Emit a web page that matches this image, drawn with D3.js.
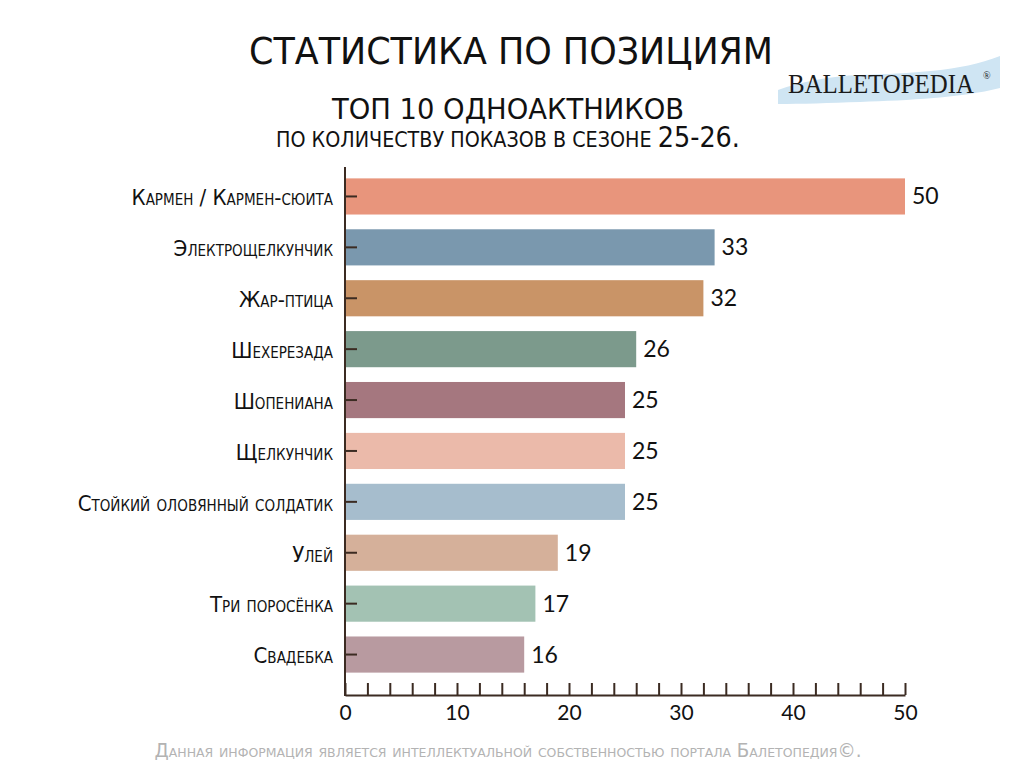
<!DOCTYPE html>
<html>
<head>
<meta charset="utf-8">
<script src="https://cdn.jsdelivr.net/npm/d3@7"></script>
<style>
  html, body { margin: 0; padding: 0; background: #fff; }
  svg { display: block; }
  .cap { font-variant: small-caps; }
</style>
</head>
<body>
<div id="chart"></div>
<script>
// Top 10 one-act ballets by number of shows, season 25-26

const titles = ["Кармен / Кармен-сюита", "Электрощелкунчик", "Жар-птица", "Шехерезада", "Шопениана",
  "Щелкунчик", "Стойкий оловянный солдатик", "Улей", "Три поросёнка", "Свадебка"];
const shows = [50, 33, 32, 26, 25, 25, 25, 19, 17, 16];
const barColors = ["#e8957c", "#7a98ae", "#c99467", "#7c9a8c", "#a5777f",
  "#ebbaaa", "#a6bdcd", "#d5b09a", "#a3c2b3", "#b89aa0"];
const xTicks = d3.range(0, 51, 2);

const width = 1024, height = 768;
const ink = "#3b2b22";
const narrow = "'Liberation Sans Narrow', 'DejaVu Sans Condensed', sans-serif";

const svg = d3.select("#chart").append("svg")
  .attr("width", width)
  .attr("height", height);

// scales
const x = d3.scaleLinear().domain([0, 50]).range([345, 905]);
const y = d3.scaleBand().domain(titles).range([171, 680])
  .paddingInner(0.29).paddingOuter(0.145);
const axisY = 695;

// headings
svg.append("text")
  .attr("x", 511).attr("y", 64)
  .attr("text-anchor", "middle")
  .attr("textLength", 524).attr("lengthAdjust", "spacingAndGlyphs")
  .style("font-family", narrow)
  .style("font-size", "38px")
  .attr("fill", "#111")
  .text("СТАТИСТИКА ПО ПОЗИЦИЯМ");

svg.append("text")
  .attr("x", 508).attr("y", 119)
  .attr("text-anchor", "middle")
  .attr("textLength", 352).attr("lengthAdjust", "spacingAndGlyphs")
  .style("font-family", narrow)
  .style("font-size", "29px")
  .attr("fill", "#111")
  .text("ТОП 10 ОДНОАКТНИКОВ");

const sub = svg.append("text")
  .attr("x", 508).attr("y", 147)
  .attr("text-anchor", "middle")
  .attr("textLength", 464).attr("lengthAdjust", "spacingAndGlyphs")
  .style("font-family", narrow)
  .attr("fill", "#111");
sub.append("tspan").style("font-size", "21px").text("ПО КОЛИЧЕСТВУ ПОКАЗОВ В СЕЗОНЕ ");
sub.append("tspan").style("font-size", "28px").text("25-26.");

// logo swoosh + name (squeezed horizontally to fit)
svg.append("path")
  .attr("d", "M778,90 C800,82 830,76 860,75 C910,73 960,72 1000,56 L1000,88 C960,98 910,100 860,102 C830,103 800,104 778,104 Z")
  .attr("fill", "#cfe5f3");
const logo = svg.append("text")
  .style("font-family", "'Liberation Serif', 'DejaVu Serif', serif")
  .style("font-size", "28px")
  .attr("fill", "#1a1a1a")
  .text("BALLETOPEDIA");
const logoW = logo.node().getComputedTextLength() || 186;
logo.attr("transform", `translate(788,93) scale(${186 / logoW},1)`);
svg.append("text")
  .attr("x", 983).attr("y", 79)
  .style("font-family", "'Liberation Serif', serif")
  .style("font-size", "10px")
  .attr("fill", "#1a1a1a")
  .text("®");

// bars
svg.append("g").selectAll("rect")
  .data(titles)
  .join("rect")
  .attr("x", x(0))
  .attr("y", d => y(d))
  .attr("width", (d, i) => x(shows[i]) - x(0))
  .attr("height", y.bandwidth())
  .attr("fill", (d, i) => barColors[i]);

// value labels
svg.append("g").selectAll("text")
  .data(titles)
  .join("text")
  .attr("x", (d, i) => x(shows[i]) + 7)
  .attr("y", d => y(d) + y.bandwidth() / 2 + 8)
  .style("font-family", "Lato, 'Noto Sans', sans-serif")
  .style("font-size", "23px")
  .attr("fill", "#111")
  .text((d, i) => shows[i]);

// y axis (category labels + short ticks over bars)
const gy = svg.append("g")
  .attr("transform", `translate(${x(0)},0)`)
  .call(d3.axisLeft(y).tickSizeInner(-12).tickSizeOuter(0).tickPadding(12));
gy.select(".domain").remove();
gy.selectAll(".tick line").attr("stroke", ink).attr("stroke-width", 2);
gy.selectAll(".tick text")
  .attr("class", "cap")
  .attr("dy", "0.4em")
  .style("font-family", narrow)
  .style("font-size", "22px")
  .attr("fill", "#111");

svg.append("line")
  .attr("x1", x(0)).attr("x2", x(0))
  .attr("y1", 167).attr("y2", axisY + 1)
  .attr("stroke", ink).attr("stroke-width", 2);

// x axis
const gx = svg.append("g")
  .attr("transform", `translate(0,${axisY})`)
  .call(d3.axisBottom(x).tickValues(xTicks)
    .tickFormat(d => d % 10 === 0 ? d : "")
    .tickSizeInner(-12).tickSizeOuter(0).tickPadding(10));
gx.select(".domain").attr("stroke", ink).attr("stroke-width", 2);
gx.selectAll(".tick line").attr("stroke", ink).attr("stroke-width", 2);
gx.selectAll(".tick text")
  .style("font-family", "Lato, 'Noto Sans', sans-serif")
  .style("font-size", "21px")
  .attr("fill", "#111");

// footer
svg.append("text")
  .attr("class", "cap")
  .attr("x", 508).attr("y", 757)
  .attr("text-anchor", "middle")
  .attr("textLength", 707).attr("lengthAdjust", "spacingAndGlyphs")
  .style("font-family", narrow)
  .style("font-size", "19px")
  .attr("fill", "#b3b3b3")
  .text("Данная информация является интеллектуальной собственностью портала Балетопедия©.");
</script>
</body>
</html>
